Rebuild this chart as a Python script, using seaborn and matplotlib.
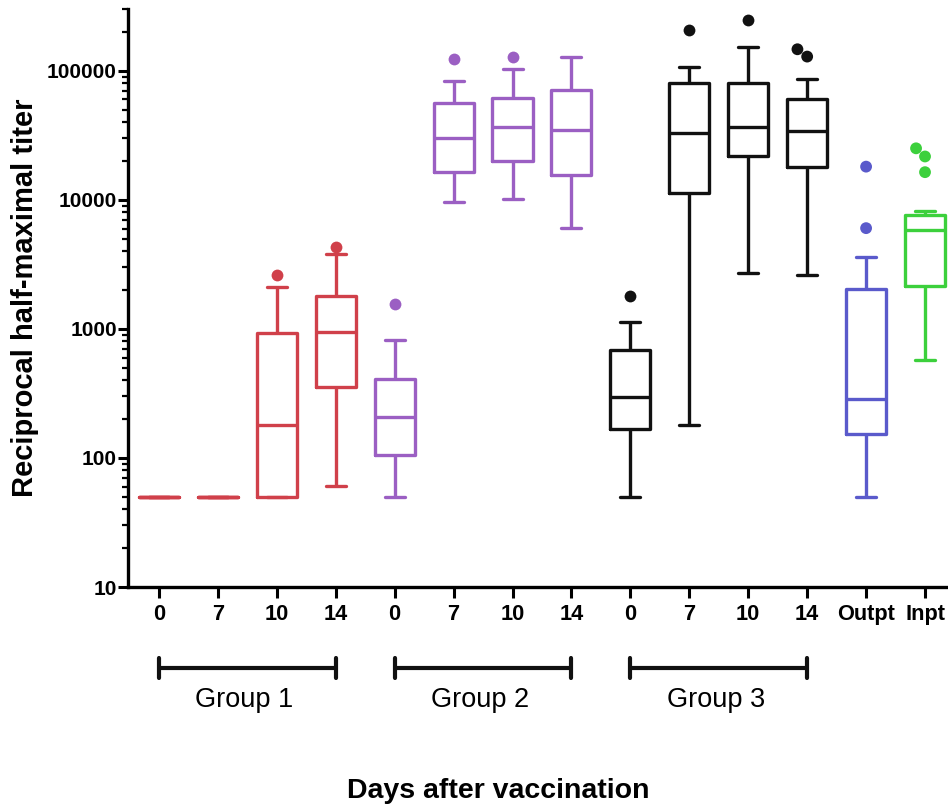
import numpy as np
import pandas as pd
import matplotlib
matplotlib.use("Agg")
import matplotlib.pyplot as plt
from matplotlib import font_manager
from matplotlib.ticker import NullFormatter
import seaborn as sns

# box summaries (reciprocal half-maximal titer)
groups = ["G1-0", "G1-7", "G1-10", "G1-14",
          "G2-0", "G2-7", "G2-10", "G2-14",
          "G3-0", "G3-7", "G3-10", "G3-14",
          "Outpt", "Inpt"]
tick_labels = ["0", "7", "10", "14", "0", "7", "10", "14",
               "0", "7", "10", "14", "Outpt", "Inpt"]
whisker_low = [50, 50, 50, 61, 50, 9600, 10100, 6100, 50, 180, 2700, 2600, 50, 575]
q1 = [50, 50, 50, 353, 105, 16400, 20000, 15600, 167, 11400, 21700, 18100, 153, 2150]
median = [50, 50, 180, 940, 209, 30100, 36400, 34900, 298, 32900, 37000, 34300, 285, 5850]
q3 = [50, 50, 930, 1800, 407, 56700, 62100, 71300, 687, 80400, 81100, 60300, 2030, 7650]
whisker_high = [50, 50, 2100, 3800, 820, 83500, 103000, 127000, 1140, 108000, 154000, 86700, 3630, 8270]

outlier_group = ["G1-10", "G1-14", "G2-0", "G2-7", "G2-10", "G3-0", "G3-7", "G3-10",
                 "G3-14", "G3-14", "Outpt", "Outpt", "Inpt", "Inpt", "Inpt"]
outlier_value = [2620, 4350, 1550, 123000, 129000, 1800, 208000, 248000,
                 129000, 147000, 6040, 18100, 16400, 21700, 25100]

group_names = ["Group 1", "Group 2", "Group 3"]
ytick_values = [10, 100, 1000, 10000, 100000]
ytick_labels = ["10", "100", "1000", "10000", "100000"]

colors = ["#d0404a"] * 4 + ["#9b5fc3"] * 4 + ["#111111"] * 4 + ["#5a5acb", "#3cd03c"]
palette = dict(zip(groups, colors))

sns.set_style("ticks")
names = {f.name for f in font_manager.fontManager.ttflist}
if "Liberation Sans Narrow" in names:
    narrow, k = "Liberation Sans Narrow", 1.22
else:
    narrow, k = "Liberation Sans", 1.0
plt.rcParams["font.family"] = ["Liberation Sans", "DejaVu Sans"]
for key in ["text.color", "axes.labelcolor", "xtick.color", "ytick.color", "axes.edgecolor"]:
    plt.rcParams[key] = "black"

# five points per box -> q1/median/q3 fall exactly on the read values
box_df = pd.DataFrame({
    "day": np.repeat(groups, 5),
    "titer": np.column_stack([whisker_low, q1, median, q3, whisker_high]).ravel(),
})
out_df = pd.DataFrame({"day": outlier_group, "titer": outlier_value})

fig, ax = plt.subplots(figsize=(9.48, 8.10), dpi=100)
fig.subplots_adjust(left=0.135, right=1.0, bottom=0.2753, top=0.989)

sns.boxplot(data=box_df, x="day", y="titer", hue="day", order=groups, hue_order=groups,
            palette=palette, fill=False, whis=np.inf, width=0.68, linewidth=2.4,
            log_scale=True, legend=False, ax=ax)
sns.swarmplot(data=out_df, x="day", y="titer", hue="day", order=groups, hue_order=groups,
              palette=palette, size=8.5, log_scale=True, legend=False, ax=ax)

ax.set_xlim(-0.526, 13.39)
ax.set_ylim(10, 302000)
ax.set_yticks(ytick_values)
ax.set_yticklabels(ytick_labels, fontsize=15 * k, fontweight="bold", family=narrow)
ax.yaxis.set_minor_formatter(NullFormatter())
ax.set_xticks(range(len(groups)))
ax.set_xticklabels(tick_labels, fontsize=15.7 * k, fontweight="bold", family=narrow)

sns.despine(ax=ax)
for side in ["left", "bottom"]:
    ax.spines[side].set_linewidth(2.4)
    ax.spines[side].set_color("black")
ax.tick_params(axis="y", which="major", length=7, width=2.2, pad=1, color="black")
ax.tick_params(axis="y", which="minor", length=4, width=1.6, color="black")
ax.tick_params(axis="x", which="major", length=8, width=2.2, pad=4, color="black")

ax.set_ylabel("Reciprocal half-maximal titer", fontsize=21, fontweight="bold", color="black")
ax.yaxis.set_label_coords(-0.108, 0.5)
ax.set_xlabel("Days after vaccination", fontsize=20.5 * k, fontweight="bold",
              family=narrow, color="black")
ax.xaxis.set_label_coords(0.452, -0.330)

# group brackets under the tick labels
trans = ax.get_xaxis_transform()
for i, name in enumerate(group_names):
    start, end = 4 * i, 4 * i + 3
    ax.plot([start, end], [-0.140, -0.140], color="#111111", lw=3, transform=trans, clip_on=False)
    for x in (start, end):
        ax.plot([x, x], [-0.123, -0.157], color="#111111", lw=3, transform=trans, clip_on=False)
    ax.text((start + end) / 2 - 0.05, -0.195, name, transform=trans, ha="center", va="center",
            fontsize=19.5 * k, family=narrow, color="black")

fig.savefig("out.png", dpi=100)
